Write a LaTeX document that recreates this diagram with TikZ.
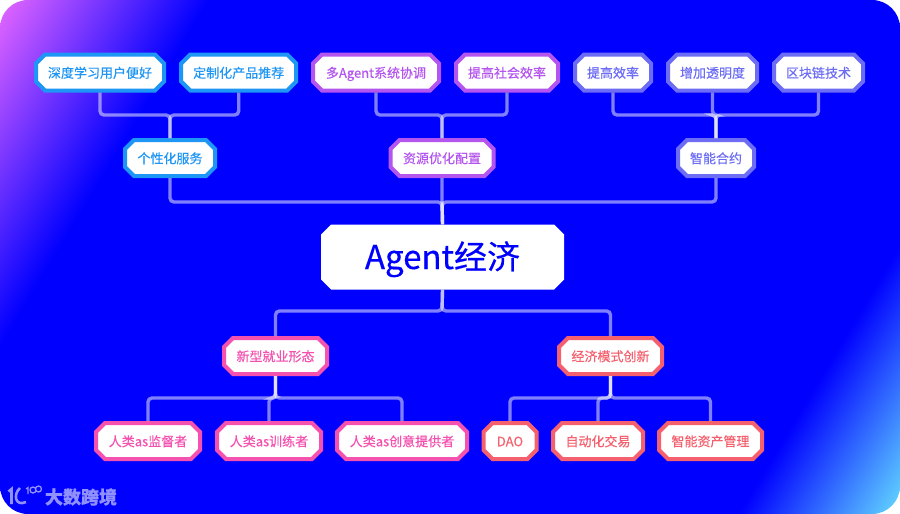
\documentclass[tikz,border=0pt]{standalone}
\usepackage{fontspec}
\setmainfont[FakeBold=0.35]{Noto Sans CJK SC}
\usetikzlibrary{shapes.misc}
\definecolor{bgblue}{HTML}{0000FF}
\definecolor{bgpink}{HTML}{E868FF}
\definecolor{bgcyan}{HTML}{66DDFF}
\definecolor{skyc}{HTML}{1E96F5}
\definecolor{purplec}{HTML}{B455F0}
\definecolor{indigoc}{HTML}{6C6CF5}
\definecolor{pinkc}{HTML}{F552B0}
\definecolor{coralc}{HTML}{F5606E}
\definecolor{logoc}{HTML}{9090FF}
\pgfdeclarehorizontalshading{bgshade}{100bp}{color(0bp)=(bgpink); color(24bp)=(bgpink); color(33bp)=(bgblue); color(69bp)=(bgblue); color(76bp)=(bgcyan); color(100bp)=(bgcyan)}
\tikzset{
  tagbox/.style={chamfered rectangle, chamfered rectangle xsep=4.5pt, chamfered rectangle ysep=4.5pt, fill=white, draw=#1, text=#1, line width=4pt, inner sep=0pt, minimum height=36pt, text height=11.5pt, text depth=1pt, font=\fontsize{13}{13}\selectfont},
  link/.style={draw=white, opacity=.5, line width=3.4pt, rounded corners=4pt},
  logoline/.style={draw=logoc, line width=2.6pt},
}

\begin{document}
\begin{tikzpicture}[x=1pt,y=-1pt]
\useasboundingbox (0,0) rectangle (900,514);
\begin{scope}
\clip[rounded corners=28pt] (0,0) rectangle (900,514);
\shade[shading=bgshade, shading angle=-31] (-50,-243) rectangle (950,757);
\end{scope}
% top row
\node[tagbox=skyc, minimum width=128pt] (study) at (100,72.5) {深度学习用户便好};
\node[tagbox=skyc, minimum width=115pt] (custom) at (238.7,72.5) {定制化产品推荐};
\node[tagbox=purplec, minimum width=126pt] (multi) at (376,72.5) {多Agent系统协调};
\node[tagbox=purplec, minimum width=102pt] (social) at (507,72.5) {提高社会效率};
\node[tagbox=indigoc, minimum width=76pt] (speed) at (613,72.5) {提高效率};
\node[tagbox=indigoc, minimum width=89pt] (clear) at (712.5,72.5) {增加透明度};
\node[tagbox=indigoc, minimum width=89pt] (chain) at (818.5,72.5) {区块链技术};
% second row
\node[tagbox=skyc, minimum width=90pt] (person) at (170,158) {个性化服务};
\node[tagbox=purplec, minimum width=103pt] (alloc) at (442,158) {资源优化配置};
\node[tagbox=indigoc, minimum width=76pt] (smart) at (716,158) {智能合约};
% centre
\node[chamfered rectangle, chamfered rectangle xsep=5pt, chamfered rectangle ysep=5pt, fill=white, text=bgblue, inner sep=0pt, minimum width=243pt, minimum height=65pt, text height=26pt, text depth=2pt, font=\fontsize{33}{33}\selectfont] (agent) at (442.5,257) {Agent经济};
% lower rows
\node[tagbox=pinkc, minimum width=103pt] (jobs) at (275.5,356) {新型就业形态};
\node[tagbox=coralc, minimum width=103pt] (model) at (610.5,356) {经济模式创新};
\node[tagbox=pinkc, minimum width=104pt] (watch) at (148,441) {人类as监督者};
\node[tagbox=pinkc, minimum width=104pt] (train) at (269,441) {人类as训练者};
\node[tagbox=pinkc, minimum width=130pt] (idea) at (402,441) {人类as创意提供者};
\node[tagbox=coralc, minimum width=53pt] (dao) at (510,441) {DAO};
\node[tagbox=coralc, minimum width=90pt] (auto) at (598,441) {自动化交易};
\node[tagbox=coralc, minimum width=103pt] (asset) at (710.5,441) {智能资产管理};
% junctions
\coordinate (j1) at (170,115);
\coordinate (j2) at (442,115);
\coordinate (j3) at (716,115);
\coordinate (jup) at (442,202);
\coordinate (jdown) at (442,311);
\coordinate (j4) at (275.5,398);
\coordinate (j5) at (610.5,398);
% connectors
\draw[link] (study.south) |- (j1) -- (person.north);
\draw[link] (custom.south) |- (j1) -- (person.north);
\draw[link] (multi.south) |- (j2) -- (alloc.north);
\draw[link] (social.south) |- (j2) -- (alloc.north);
\draw[link] (speed.south) |- (j3) -- (smart.north);
\draw[link] (clear.south) |- (j3) -- (smart.north);
\draw[link] (chain.south) |- (j3) -- (smart.north);
\draw[link] (person.south) |- (jup) -- (agent.north);
\draw[link] (alloc.south) -- (jup) -- (agent.north);
\draw[link] (smart.south) |- (jup) -- (agent.north);
\draw[link] (agent.south) -- (jdown) -| (jobs.north);
\draw[link] (agent.south) -- (jdown) -| (model.north);
\draw[link] (jobs.south) -- (j4) -| (watch.north);
\draw[link] (jobs.south) -- (j4) -| (train.north);
\draw[link] (jobs.south) -- (j4) -| (idea.north);
\draw[link] (model.south) -- (j5) -| (dao.north);
\draw[link] (model.south) -- (j5) -| (auto.north);
\draw[link] (model.south) -- (j5) -| (asset.north);
% logo
\draw[logoline] (8.5,491.5) -- (11.5,489) -- (11.5,504);
\draw[logoline] (20,488) .. controls (13,494) and (15,507) .. (26,502);
\draw[logoline, line width=1.2pt] (26,489) -- (28,487.5) -- (28,494);
\draw[logoline, line width=1.3pt] (33,490) circle (3) (38.5,489) circle (3);
\node[text=logoc, inner sep=0pt, font=\bfseries\fontsize{18}{18}\selectfont] (brand) at (81,497) {大数跨境};
\end{tikzpicture}
\end{document}
